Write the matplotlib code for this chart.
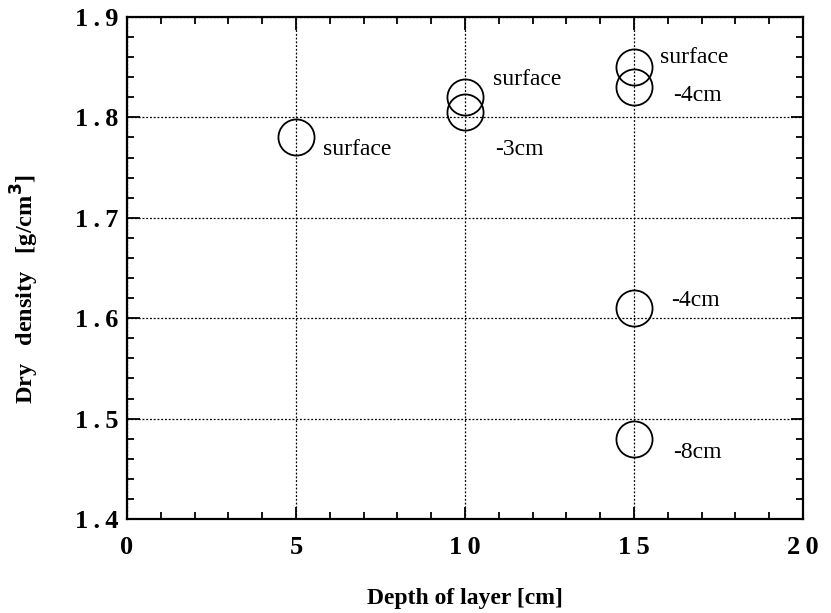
import matplotlib
matplotlib.use('Agg')
import matplotlib.pyplot as plt
from matplotlib.ticker import MultipleLocator

# data
depth = [5, 10, 10, 15, 15, 15, 15]
density = [1.78, 1.82, 1.805, 1.85, 1.83, 1.61, 1.48]

label_text = ['surface', 'surface', '-3cm', 'surface', '-4cm', '-4cm', '-8cm']
label_x = [5.81, 10.83, 10.88, 15.78, 16.17, 16.1, 16.17]
label_y = [1.768, 1.838, 1.768, 1.86, 1.822, 1.618, 1.466]

x_ticks = [0, 5, 10, 15, 20]
y_ticks = [1.4, 1.5, 1.6, 1.7, 1.8, 1.9]

plt.rcParams['font.family'] = ['Liberation Serif', 'DejaVu Serif']

fig = plt.figure(figsize=(8.31, 6.13), dpi=100)
ax = fig.add_axes([0.1528, 0.1533, 0.8135, 0.819])

ax.plot(depth, density, 'o', mfc='none', mec='black', ms=26, mew=1.3, zorder=3)
for t, x, y in zip(label_text, label_x, label_y):
    ax.text(x, y, t, fontsize=17, va='center', ha='left')

# spaced digits like the original typesetting
sp = '\u2009'
ax.set_xlim(0, 20)
ax.set_ylim(1.4, 1.9)
ax.set_xticks(x_ticks, [sp.join(str(v)) for v in x_ticks], fontsize=19, fontweight='bold')
ax.set_yticks(y_ticks, [sp.join(f'{v:.1f}') for v in y_ticks], fontsize=19, fontweight='bold')
ax.xaxis.set_minor_locator(MultipleLocator(1))
ax.yaxis.set_minor_locator(MultipleLocator(0.02))
ax.grid(True, which='major', linestyle=(0, (1.5, 1.5)), color='black', linewidth=0.9)

ax.tick_params(which='both', direction='in', top=True, right=True, width=1.3)
ax.tick_params(axis='x', which='major', length=9, pad=12)
ax.tick_params(axis='y', which='major', length=9, pad=6)
ax.tick_params(which='minor', length=5)
for s in ax.spines.values():
    s.set_linewidth(1.6)

ax.set_xlabel('Depth of layer [cm]', fontsize=17, fontweight='bold')
ax.set_ylabel('Dry   density   [g/cm$^\\mathbf{3}$]', fontsize=17.5, fontweight='bold')
ax.xaxis.set_label_coords(0.5, -0.137)
ax.yaxis.set_label_coords(-0.127, 0.458)

fig.savefig('out.png', dpi=100)
